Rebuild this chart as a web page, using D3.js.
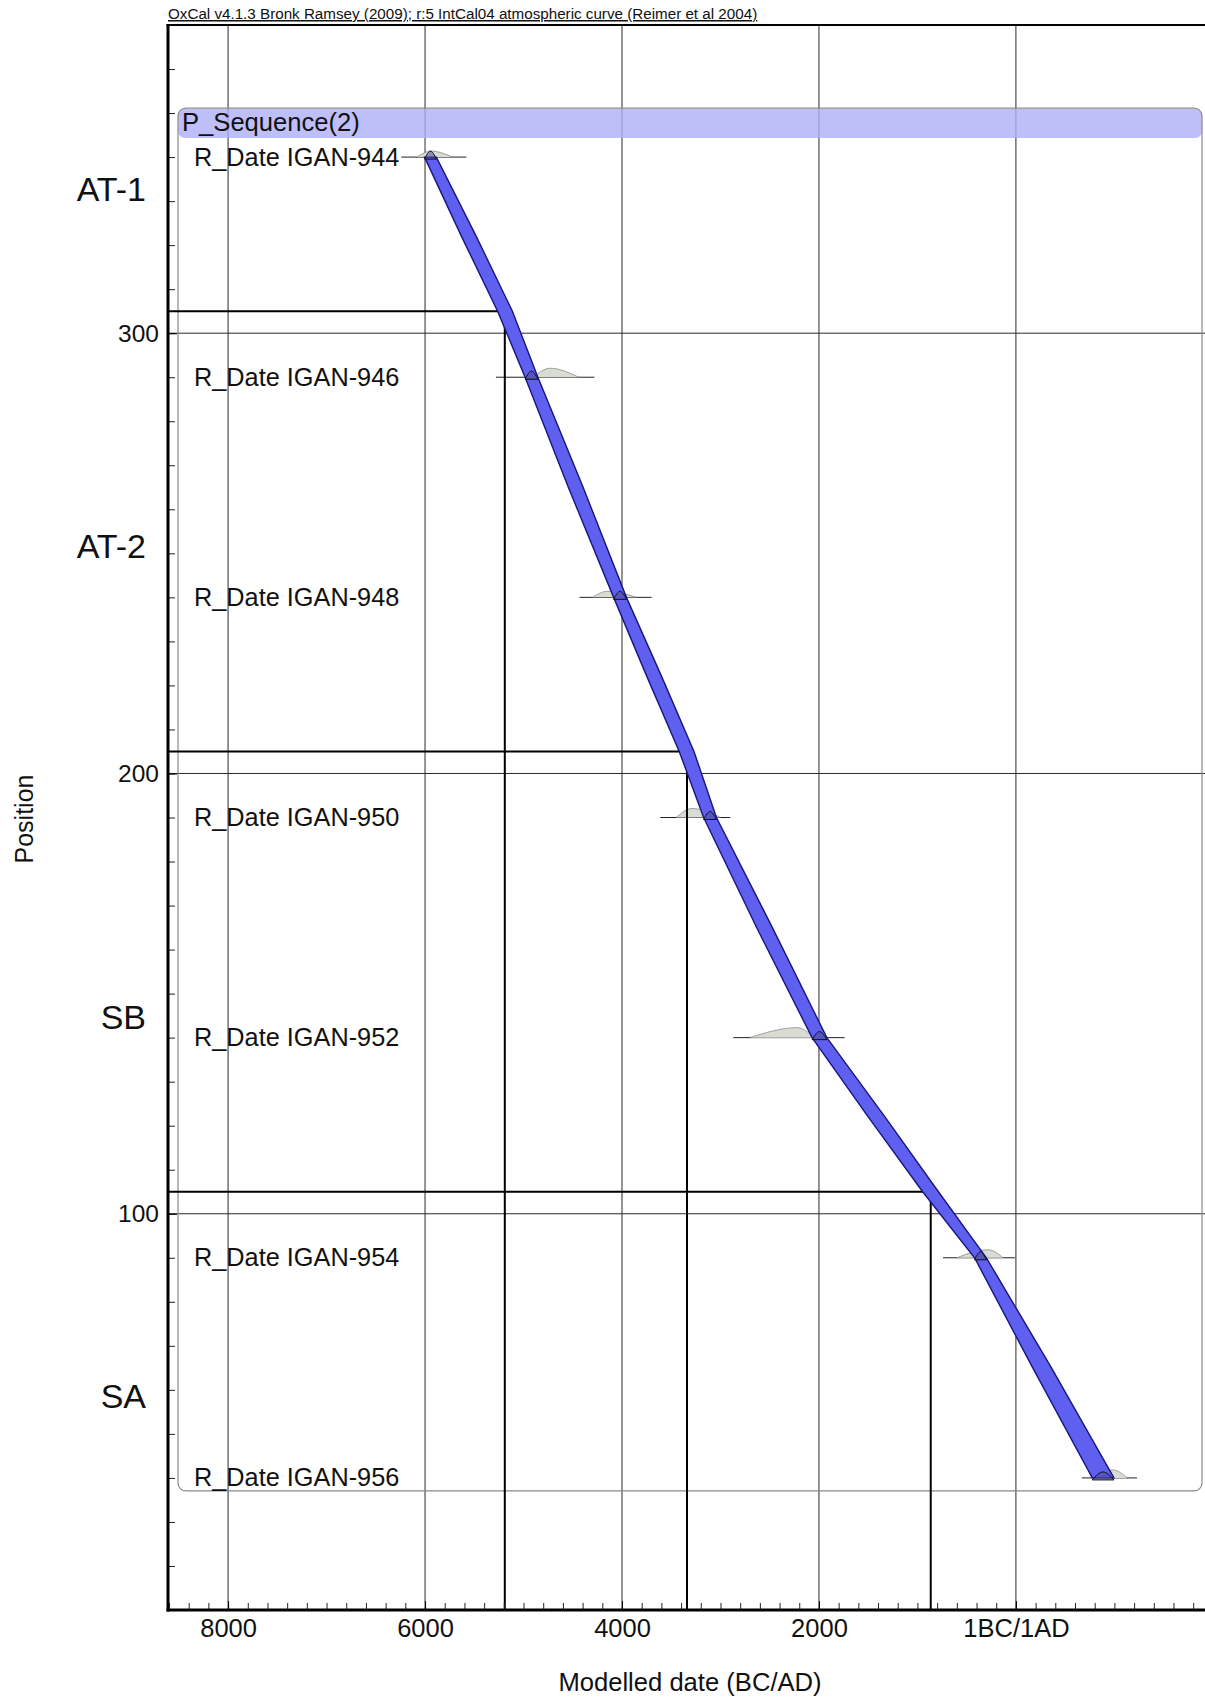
<!DOCTYPE html>
<html>
<head>
<meta charset="utf-8">
<script src="https://cdn.jsdelivr.net/npm/d3@7"></script>
<style>
  body { margin: 0; background: #fff; }
  text { font-family: "Liberation Sans", Arial, sans-serif; fill: #111; }
</style>
</head>
<body>
<div id="chart"></div>
<script>
// dates are BC negative / AD positive, positions are depth units
var dateLabels = ["R_Date IGAN-944", "R_Date IGAN-946", "R_Date IGAN-948", "R_Date IGAN-950",
                  "R_Date IGAN-952", "R_Date IGAN-954", "R_Date IGAN-956"];
var datePos = [340, 290, 240, 190, 140, 90, 40];
var rangeFrom = [-6240, -5280, -4430, -3610, -2870, -740, 670];
var rangeTo = [-5580, -4280, -3700, -2900, -1740, -10, 1230];
var likeFrom = [-6080, -4900, -4300, -3450, -2700, -600, 820];
var likePeak = [-5940, -4730, -4150, -3290, -2220, -280, 985];
var likeTo = [-5720, -4440, -3850, -3000, -2050, -130, 1130];
var likeHeight = [0.6, 0.9, 0.6, 0.9, 1.0, 0.8, 0.8];

var bandPos = [340, 322, 305, 290, 265, 240, 222, 205, 190, 165, 140, 122, 105, 90, 65, 40];
var bandLow = [-6005, -5630, -5263, -4984, -4545, -4085, -3747, -3419, -3171, -2633, -2070, -1500, -947, -420, 171, 775];
var bandHigh = [-5885, -5480, -5113, -4854, -4395, -3955, -3597, -3269, -3041, -2473, -1920, -1330, -787, -300, 361, 995];

var boundaryPos = [305, 205, 105];
var boundaryDate = [-5190, -3340, -865];

var zoneNames = ["AT-1", "AT-2", "SB", "SA"];
var zonePos = [332, 251, 144, 58];

var xTicks = [-8000, -6000, -4000, -2000, 0];
var yTicks = [100, 200, 300];
var sequenceName = "P_Sequence(2)";
var headerText = "OxCal v4.1.3 Bronk Ramsey (2009); r:5 IntCal04 atmospheric curve (Reimer et al 2004)";

var W = 1205, H = 1700;
var plotL = 168, plotR = 1205, plotT = 25, plotB = 1610;

var svg = d3.select("#chart").append("svg")
    .attr("width", W).attr("height", H);

var x = d3.scaleLinear().domain([-8610, 1920]).range([plotL, plotR]);
var y = d3.scaleLinear().domain([10, 370]).range([plotB, plotT]);

// grid
svg.append("g").selectAll("line").data(xTicks).enter().append("line")
    .attr("x1", d => x(d)).attr("x2", d => x(d))
    .attr("y1", plotT).attr("y2", plotB)
    .attr("stroke", "#2a2a2a").attr("stroke-width", 1);
svg.append("g").selectAll("line").data(yTicks).enter().append("line")
    .attr("x1", plotL).attr("x2", plotR)
    .attr("y1", d => y(d)).attr("y2", d => y(d))
    .attr("stroke", "#2a2a2a").attr("stroke-width", 1);

// sequence box
var boxTop = y(datePos[0]) - 49, boxBottom = y(datePos[datePos.length - 1]) + 13;
svg.append("rect")
    .attr("x", 178).attr("y", boxTop + 1)
    .attr("width", 1024).attr("height", 29)
    .attr("rx", 7)
    .attr("fill", "#aeaef7").attr("opacity", 0.8);
svg.append("rect")
    .attr("x", 178).attr("y", boxTop)
    .attr("width", 1024).attr("height", boxBottom - boxTop)
    .attr("rx", 8)
    .attr("fill", "none").attr("stroke", "#8a8a8a").attr("stroke-width", 1.2);
svg.append("text")
    .attr("x", 182).attr("y", boxTop + 23)
    .style("font-size", "25.6px")
    .text(sequenceName);

// labels
svg.append("g").selectAll("text").data(dateLabels).enter().append("text")
    .attr("x", 194).attr("y", (d, i) => y(datePos[i]) + 8.5)
    .style("font-size", "25.3px")
    .text(d => d);

// range lines
svg.append("g").selectAll("line").data(datePos).enter().append("line")
    .attr("x1", (d, i) => x(rangeFrom[i])).attr("x2", (d, i) => x(rangeTo[i]))
    .attr("y1", d => y(d)).attr("y2", d => y(d))
    .attr("stroke", "#222").attr("stroke-width", 1);

// likelihood humps
var hump = d3.line().x(d => x(d[0])).y(d => d[1]).curve(d3.curveMonotoneX);
svg.append("g").selectAll("path").data(datePos).enter().append("path")
    .attr("d", (d, i) => hump([[likeFrom[i], y(d)], [likePeak[i], y(d) - 10 * likeHeight[i]], [likeTo[i], y(d)]]))
    .attr("fill", "#d8dcd2").attr("stroke", "#8c8c8c").attr("stroke-width", 0.8);

// boundaries
svg.append("g").selectAll("path").data(boundaryPos).enter().append("path")
    .attr("d", (d, i) => "M" + plotL + "," + y(d) + "H" + x(boundaryDate[i]) + "V" + plotB)
    .attr("fill", "none").attr("stroke", "#000").attr("stroke-width", 2);

// age-depth band
var bandPts = bandPos.map((p, i) => [bandLow[i], p]).concat(bandPos.map((p, i) => [bandHigh[i], p]).reverse());
svg.append("path")
    .attr("d", d3.line().x(d => x(d[0])).y(d => y(d[1]))(bandPts) + "Z")
    .attr("fill", "#5f5ff0").attr("stroke", "#161680").attr("stroke-width", 1.4);

// posterior marks
datePos.forEach(function(p) {
    var k = bandPos.indexOf(p);
    var lo = bandLow[k], hi = bandHigh[k];
    svg.append("path")
        .attr("d", hump([[lo, y(p) + 2], [(lo + hi) / 2, y(p) - 6], [hi, y(p) + 2]]) + "Z")
        .attr("fill", "#4a4a9a").attr("fill-opacity", 0.55)
        .attr("stroke", "#111").attr("stroke-width", 1);
});

// axes
var minorY = d3.range(20, 370, 10);
svg.append("g").attr("transform", "translate(" + plotL + ",0)")
    .call(d3.axisLeft(y).tickValues(minorY).tickFormat("").tickSizeInner(-7).tickSizeOuter(0))
    .call(g => g.select(".domain").remove())
    .selectAll("line").attr("stroke", "#222");
svg.append("g").attr("transform", "translate(" + plotL + ",0)")
    .call(d3.axisLeft(y).tickValues(yTicks).tickSizeInner(-9).tickSizeOuter(0).tickPadding(9))
    .call(g => g.select(".domain").remove())
    .call(g => g.selectAll("text").style("font-size", "24.5px").attr("fill", "#111"));

var minorX = d3.range(-8600, 1900, 200);
svg.append("g").attr("transform", "translate(0," + plotB + ")")
    .call(d3.axisBottom(x).tickValues(minorX).tickFormat("").tickSizeInner(-7).tickSizeOuter(0))
    .call(g => g.select(".domain").remove())
    .selectAll("line").attr("stroke", "#222");
svg.append("g").attr("transform", "translate(0," + plotB + ")")
    .call(d3.axisBottom(x).tickValues(xTicks).tickSizeInner(-9).tickSizeOuter(0).tickPadding(9)
        .tickFormat(d => d === 0 ? "1BC/1AD" : Math.abs(d)))
    .call(g => g.select(".domain").remove())
    .call(g => g.selectAll("text").style("font-size", "25.5px").attr("fill", "#111"));

// frame
svg.append("line").attr("x1", plotL).attr("x2", plotL).attr("y1", plotT - 1).attr("y2", plotB + 1.5)
    .attr("stroke", "#000").attr("stroke-width", 3);
svg.append("line").attr("x1", plotL - 1.5).attr("x2", plotR).attr("y1", plotB).attr("y2", plotB)
    .attr("stroke", "#000").attr("stroke-width", 3);
svg.append("line").attr("x1", plotL - 1.5).attr("x2", plotR).attr("y1", plotT).attr("y2", plotT)
    .attr("stroke", "#000").attr("stroke-width", 2);

// zone labels
svg.append("g").selectAll("text").data(zoneNames).enter().append("text")
    .attr("x", 146).attr("y", (d, i) => y(zonePos[i]) + 9)
    .attr("text-anchor", "end")
    .style("font-size", "34px")
    .text(d => d);

// titles
svg.append("text")
    .attr("x", 168).attr("y", 19)
    .style("font-size", "15.2px")
    .style("text-decoration", "underline")
    .text(headerText);
svg.append("text")
    .attr("x", 690).attr("y", 1691)
    .attr("text-anchor", "middle")
    .style("font-size", "25.6px")
    .text("Modelled date (BC/AD)");
svg.append("text")
    .attr("transform", "translate(33,819) rotate(-90)")
    .attr("text-anchor", "middle")
    .style("font-size", "25px")
    .text("Position");
</script>
</body>
</html>
